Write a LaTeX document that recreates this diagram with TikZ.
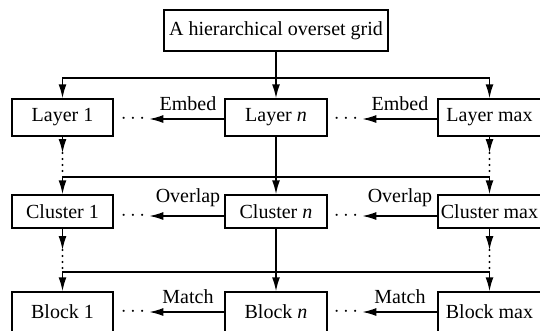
\documentclass[tikz,border=0pt]{standalone}
\usepackage{fontspec}
\setmainfont{Liberation Serif}
\newfontfamily\diagfont{Liberation Serif}
\usetikzlibrary{arrows.meta}
\begin{document}
\begin{tikzpicture}[x=1pt,y=-1pt,
  font=\diagfont\fontsize{20}{23}\selectfont,
  lw/.style={line width=1.5pt},
  box/.style={draw,lw,inner sep=0pt,anchor=center},
  arr/.style={lw,-{Latex[length=14pt,width=8pt]}},
  arrs/.style={lw,{Latex[length=14pt,width=8pt]}-{Latex[length=14pt,width=8pt]},line join=miter},
  dotline/.style={line width=2.2pt,line cap=round,dash pattern=on 0pt off 6pt},
  lab/.style={inner sep=0pt,anchor=base},
  ell/.style={inner sep=4pt,anchor=center}]
\useasboundingbox[fill=white] (0,0) rectangle (540,330);

% root box
\node[box,minimum width=224pt,minimum height=41pt] (top) at (276,30.5) {A hierarchical overset grid};

% layer row
\node[box,minimum width=101pt,minimum height=37pt] (l1) at (62.5,117.5) {Layer 1};
\node[box,minimum width=102pt,minimum height=37pt] (ln) at (276,117.5) {Layer \textit{n}};
\node[box,minimum width=103pt,minimum height=37pt] (lm) at (489.5,117.5) {Layer max};

% cluster row
\node[box,minimum width=101pt,minimum height=33pt] (c1) at (62.5,211.5) {Cluster 1};
\node[box,minimum width=102pt,minimum height=33pt] (cn) at (276,211.5) {Cluster \textit{n}};
\node[box,minimum width=103pt,minimum height=33pt] (cm) at (489.5,211.5) {Cluster max};

% block row
\node[box,minimum width=101pt,minimum height=40pt] (b1) at (62.5,312) {Block 1};
\node[box,minimum width=102pt,minimum height=40pt] (bn) at (276,312) {Block \textit{n}};
\node[box,minimum width=103pt,minimum height=40pt] (bm) at (489.5,312) {Block max};

% ellipsis marks between columns
\node[ell] (e1) at (133,119) {$\cdots$};
\node[ell] (e2) at (346,119) {$\cdots$};
\node[ell] (o1) at (133,216) {$\cdots$};
\node[ell] (o2) at (346,216) {$\cdots$};
\node[ell] (m1) at (133,312) {$\cdots$};
\node[ell] (m2) at (346,312) {$\cdots$};

% horizontal distribution levels and dotted-stem ends
\coordinate (h1) at (276,78);
\coordinate (h2) at (276,177);
\coordinate (h3) at (276,272);
\coordinate (d1) at (0,153);
\coordinate (d2) at (0,250);

% root to layers
\draw[arr] (top) -- (ln);
\draw[arrs] (l1.north) -- (l1 |- h1) -- (lm.north |- h1) -- (lm.north);

% layers to clusters
\draw[arr] (ln) -- (cn);
\draw[arr] (l1.south) -- (l1 |- d1);
\draw[dotline] (l1 |- d1) -- (l1 |- h2);
\draw[arr] (lm.south) -- (lm |- d1);
\draw[dotline] (lm |- d1) -- (lm |- h2);
\draw[arrs] (c1.north) -- (c1 |- h2) -- (cm.north |- h2) -- (cm.north);

% clusters to blocks
\draw[arr] (cn) -- (bn);
\draw[arr] (c1.south) -- (c1 |- d2);
\draw[dotline] (c1 |- d2) -- (c1 |- h3);
\draw[arr] (cm.south) -- (cm |- d2);
\draw[dotline] (cm |- d2) -- (cm |- h3);
\draw[arrs] (b1.north) -- (b1 |- h3) -- (bm.north |- h3) -- (bm.north);

% sideways relations
\draw[arr] (ln.west |- e1) -- (e1.east);
\draw[arr] (lm.west |- e2) -- (e2.east);
\draw[arr] (cn.west |- o1) -- (o1.east);
\draw[arr] (cm.west |- o2) -- (o2.east);
\draw[arr] (bn.west |- m1) -- (m1.east);
\draw[arr] (bm.west |- m2) -- (m2.east);

\node[lab] (le1) at (188,110) {Embed};
\node[lab] (le2) at (400,110) {Embed};
\node[lab] (lo1) at (188,202) {Overlap};
\node[lab] (lo2) at (400,202) {Overlap};
\node[lab] (lm1) at (188,303) {Match};
\node[lab] (lm2) at (400,303) {Match};
\end{tikzpicture}
\end{document}
